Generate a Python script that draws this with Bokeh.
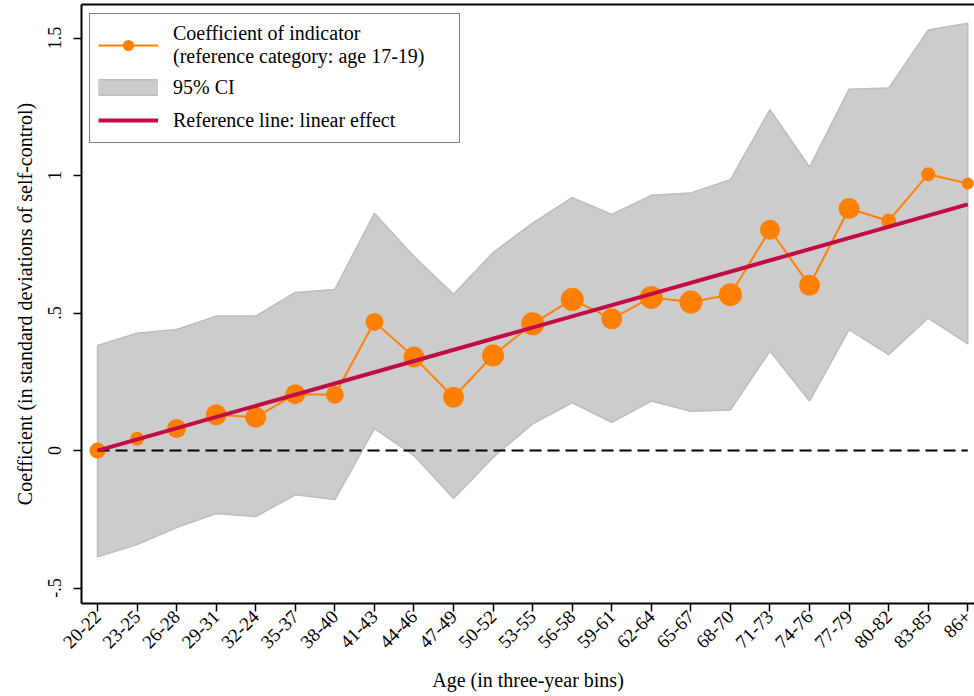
from bokeh.plotting import figure
from bokeh.models import (FixedTicker, LinearAxis, Legend, LegendItem, ColumnDataSource)
from bokeh.embed import file_html
from bokeh.resources import INLINE
from math import pi

# ---- data ----
age_bins = ["20-22", "23-25", "26-28", "29-31", "32-24", "35-37", "38-40", "41-43",
            "44-46", "47-49", "50-52", "53-55", "56-58", "59-61", "62-64", "65-67",
            "68-70", "71-73", "74-76", "77-79", "80-82", "83-85", "86+"]
coef = [0.0, 0.043, 0.080, 0.130, 0.121, 0.205, 0.203, 0.468, 0.340, 0.194, 0.346,
        0.461, 0.550, 0.479, 0.557, 0.540, 0.567, 0.803, 0.601, 0.880, 0.835, 1.005, 0.971]
ci_upper = [0.382, 0.427, 0.440, 0.489, 0.489, 0.575, 0.586, 0.863, 0.706, 0.568, 0.720,
            0.827, 0.920, 0.859, 0.928, 0.937, 0.985, 1.240, 1.031, 1.314, 1.318, 1.529, 1.554]
ci_lower = [-0.386, -0.342, -0.280, -0.229, -0.240, -0.161, -0.178, 0.080, -0.018, -0.174, -0.025,
            0.097, 0.174, 0.103, 0.180, 0.143, 0.148, 0.362, 0.180, 0.440, 0.349, 0.482, 0.388]
# reference line (linear effect): values at first and last bin
ref_line_ends = [0.0, 0.895]
y_ticks = [-0.5, 0, 0.5, 1, 1.5]
y_tick_labels = ["-.5", "0", ".5", "1", "1.5"]

# marker diameters (px) as drawn in the reference (weights)
marker_diam = [16, 14, 19, 21, 21, 20, 18, 18, 21, 21, 22, 23, 23, 21, 23, 23, 23,
               20, 21, 21, 15, 14, 12]

ORANGE = "#FF8000"
CRIMSON = "#C20C44"
GRAY = "#CCCCCC"
FONT = "'Liberation Serif', 'Times New Roman', serif"

x = list(range(len(age_bins)))

p = figure(width=974, height=696, output_backend="svg", toolbar_location=None,
           x_range=(-0.405, 22.17), y_range=(-0.556, 1.622),
           min_border_left=81, min_border_right=0, min_border_top=4, min_border_bottom=93)
p.outline_line_color = None
p.xgrid.visible = False
p.ygrid.visible = False
p.background_fill_color = "white"
p.border_fill_color = "white"

# CI band
band_x = x + x[::-1]
band_y = ci_upper + ci_lower[::-1]
ci_r = p.patch(band_x, band_y, fill_color=GRAY, line_color="#BDBDBD", line_width=1.5)

# coefficient line and markers
src = ColumnDataSource(dict(x=x, y=coef, s=marker_diam))
coef_line = p.line("x", "y", source=src, line_color=ORANGE, line_width=2)
coef_pts = p.scatter("x", "y", source=src, size="s", fill_color=ORANGE, line_color=None)

# zero line
p.line([x[0], x[-1]], [0, 0], line_color="black", line_width=2, line_dash="12 6")

# reference line
ref_r = p.line([x[0], x[-1]], ref_line_ends, line_color=CRIMSON, line_width=4)

# single-point (invisible) line renderers used only for the CI legend swatch
ci_leg_border = p.line([x[0]], [coef[0]], line_color="#BDBDBD", line_width=17)
ci_leg_fill = p.line([x[0]], [coef[0]], line_color=GRAY, line_width=14)

legend = Legend(items=[
    LegendItem(label="Coefficient of indicator\n(reference category: age 17-19)",
               renderers=[coef_line, coef_pts]),
    LegendItem(label="95% CI", renderers=[ci_leg_border, ci_leg_fill]),
    LegendItem(label="Reference line: linear effect", renderers=[ref_r]),
], location=(8, 460))
legend.margin = 0
legend.padding = 8
legend.spacing = 5
legend.glyph_width = 60
legend.glyph_height = 28
legend.label_standoff = 15
legend.label_width = 278
legend.label_text_font = FONT
legend.label_text_font_size = "20px"
legend.label_text_color = "black"
legend.label_text_line_height = 1.15
legend.border_line_color = "black"
legend.border_line_width = 1.5
legend.background_fill_alpha = 1.0
p.add_layout(legend)

# axes styling
xa = p.xaxis[0]
xa.ticker = FixedTicker(ticks=x)
xa.major_label_overrides = {i: lab for i, lab in zip(x, age_bins)}
xa.major_label_orientation = pi / 4
xa.minor_tick_line_color = None
xa.major_tick_out = 8
xa.major_tick_in = 0
xa.major_tick_line_width = 1.5
xa.major_tick_line_color = "black"
xa.axis_line_width = 2
xa.axis_line_color = "black"
xa.major_label_standoff = 2
xa.major_label_text_font = FONT
xa.major_label_text_font_size = "19px"
xa.major_label_text_color = "black"
xa.axis_label = "Age (in three-year bins)"
xa.axis_label_text_font = FONT
xa.axis_label_text_font_size = "20px"
xa.axis_label_text_font_style = "normal"
xa.axis_label_text_color = "black"
xa.axis_label_standoff = 12

ya = p.yaxis[0]
ya.ticker = FixedTicker(ticks=y_ticks)
ya.major_label_overrides = {t: lab for t, lab in zip(y_ticks, y_tick_labels)}
ya.major_label_orientation = "vertical"
ya.minor_tick_line_color = None
ya.major_tick_out = 8
ya.major_tick_in = 0
ya.major_tick_line_width = 1.5
ya.major_tick_line_color = "black"
ya.axis_line_width = 2
ya.axis_line_color = "black"
ya.major_label_standoff = 12
ya.major_label_text_font = FONT
ya.major_label_text_font_size = "18px"
ya.major_label_text_color = "black"
ya.axis_label = "Coefficient (in standard deviations of self-control)"
ya.axis_label_text_font = FONT
ya.axis_label_text_font_size = "20px"
ya.axis_label_text_font_style = "normal"
ya.axis_label_text_color = "black"
ya.axis_label_standoff = 10

# top border line
top = LinearAxis(ticker=FixedTicker(ticks=[]), major_tick_out=0, major_tick_in=0,
                 minor_tick_out=0, minor_tick_in=0, major_label_standoff=0,
                 major_label_text_font_size="0px", axis_line_width=2,
                 axis_line_color="black")
p.add_layout(top, "above")

open("out.html", "w").write(file_html(p, INLINE))
